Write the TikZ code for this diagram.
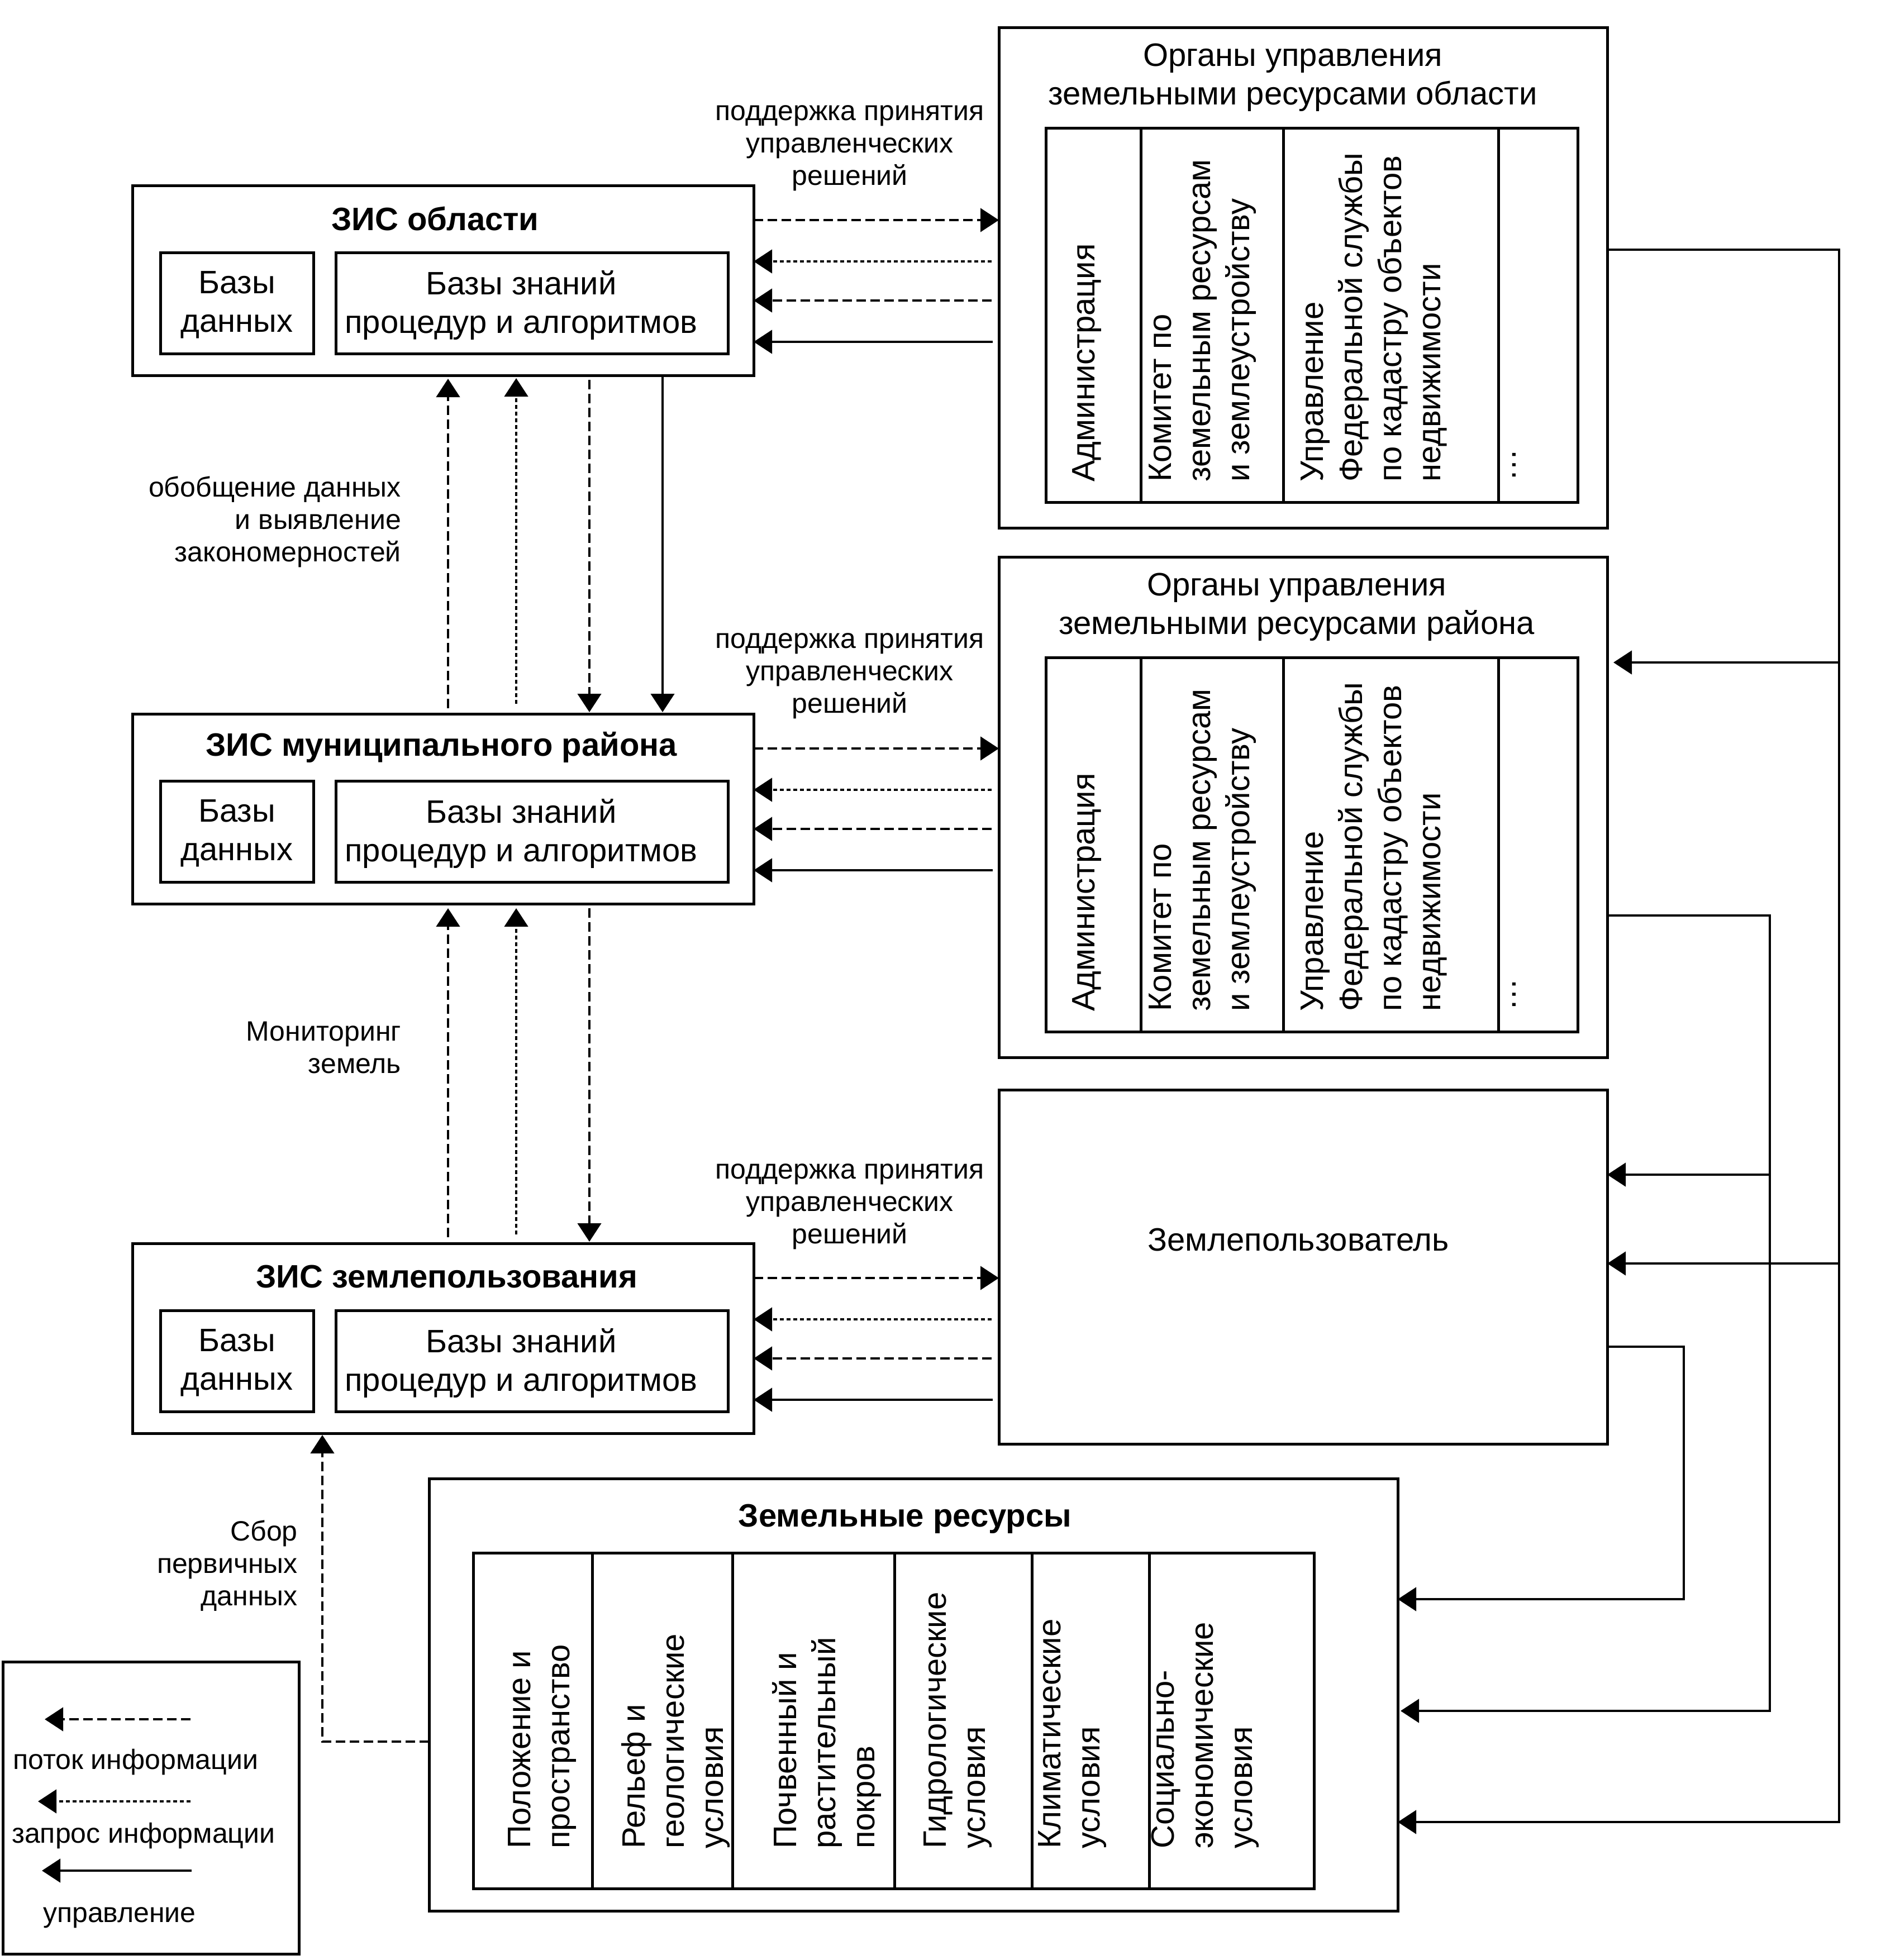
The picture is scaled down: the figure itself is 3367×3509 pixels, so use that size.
\documentclass[tikz,border=0pt]{standalone}
\usepackage{fontspec}
\setmainfont{Liberation Sans}
\usetikzlibrary{arrows.meta,calc}
\begin{document}
\begin{tikzpicture}[x=1pt,y=-1pt,
  >={Triangle[length=33pt,width=42pt]},
  box/.style={draw,line width=5pt,inner sep=0pt,outer sep=0pt,anchor=north west},
  ln/.style={line width=4.5pt},
  flow/.style={ln,dash pattern=on 17pt off 8pt},
  req/.style={ln,dash pattern=on 7pt off 5pt},
  ctl/.style={ln},
  big/.style={font=\fontsize{58}{69}\selectfont,inner sep=0pt,align=center},
  bigb/.style={font=\fontsize{58}{69}\selectfont\bfseries,inner sep=0pt},
  small/.style={font=\fontsize{50}{58}\selectfont,inner sep=0pt},
  vert/.style={font=\fontsize{58}{70}\selectfont,inner sep=0pt,rotate=90,anchor=west,align=left},
]
\useasboundingbox (0,0) rectangle (3367,3509);

% ---------- GIS boxes ----------
\foreach \n/\dy/\ttl/\tx in {zo/0/ЗИС области/779, zm/946/ЗИС муниципального района/790, zz/1894/ЗИС землепользования/800}{
  \node[box,minimum width=1112pt,minimum height=340pt] (\n) at (237,332+\dy) {};
  \node[box,minimum width=274pt,minimum height=181pt] (\n db) at (287,452+\dy) {};
  \node[box,minimum width=702pt,minimum height=181pt] (\n kb) at (601,452+\dy) {};
  \node[bigb] (\n t) at (\tx,392+\dy) {\ttl};
  \node[big] (\n dbt) at (424,546+\dy) {Базы\\данных};
  \node[big] (\n kbt) at (933,546+\dy) {Базы знаний\\процедур и алгоритмов};
}

% ---------- management bodies ----------
\foreach \n/\dy/\ttl/\tx in {oo/0/области/2314, or/948/района/2321}{
  \node[box,minimum width=1089pt,minimum height=896pt] (\n) at (1788,49+\dy) {};
  \node[big] (\n t) at (\tx,139+\dy) {Органы управления\\земельными ресурсами \ttl};
  \foreach \a/\b/\c in {1872/2042/1,2042/2297/2,2297/2682/3,2682/2824/4}{
    \node[box,minimum width={(\b-\a)*1pt},minimum height=670pt] (\n c\c) at (\a,229+\dy) {};
  }
  \node[vert] (\n x1) at (1946,863+\dy) {Администрация};
  \node[vert] (\n x2) at (2153,863+\dy) {Комитет по\\земельным ресурсам\\и землеустройству};
  \node[vert] (\n x3) at (2459,863+\dy) {Управление\\Федеральной службы\\по кадастру объектов\\недвижимости};
  \node[vert] (\n x4) at (2710,862+\dy) {…};
}

% ---------- land user ----------
\node[box,minimum width=1089pt,minimum height=634pt] (lu) at (1788,1951) {};
\node[big] (lut) at (2324,2220) {Землепользователь};

% ---------- land resources ----------
\node[box,minimum width=1734pt,minimum height=774pt] (lr) at (768,2647) {};
\node[bigb] (lrt) at (1620,2719) {Земельные ресурсы};
\foreach \a/\b/\c in {847/1060/1,1060/1311/2,1311/1601/3,1601/1847/4,1847/2057/5,2057/2352/6}{
  \node[box,minimum width={(\b-\a)*1pt},minimum height=601pt] (lrc\c) at (\a,2780) {};
}
\node[vert] (lrx1) at (971,3310) {Положение и\\пространство};
\node[vert] (lrx2) at (1209,3310) {Рельеф и\\геологические\\условия};
\node[vert] (lrx3) at (1480,3310) {Почвенный и\\растительный\\покров};
\node[vert] (lrx4) at (1715,3310) {Гидрологические\\условия};
\node[vert] (lrx5) at (1920,3310) {Климатические\\условия};
\node[vert] (lrx6) at (2157,3310) {Социально-\\экономические\\условия};

% ---------- labels ----------
\foreach \dy/\n in {0/a,945/b,1895/c}{
  \node[small,align=center] (sup\n) at (1521,265+\dy) {поддержка принятия\\управленческих\\решений};
}
\node[small,align=right,anchor=east] (lab1) at (718,934) {обобщение данных\\и выявление\\закономерностей};
\node[small,align=right,anchor=east] (lab2) at (718,1876) {Мониторинг\\земель};
\node[small,align=right,anchor=east] (lab3) at (533,2803) {Сбор\\первичных\\данных};

% ---------- horizontal arrows GIS <-> bodies ----------
\foreach \z/\o in {zo/oo, zm/or, zz/lu}{
  \draw[flow,->] ($(\z.north east)+(0,62)$) -- ($(\o.north west |- \z.north east)+(0,62)$);
  \draw[req,->] ($(\o.north west |- \z.north east)+(-13,136)$) -- ($(\z.north east)+(0,136)$);
  \draw[flow,->] ($(\o.north west |- \z.north east)+(-13,206)$) -- ($(\z.north east)+(0,206)$);
  \draw[ctl,->] ($(\o.north west |- \z.north east)+(-11,280)$) -- ($(\z.north east)+(0,280)$);
}

% ---------- vertical arrows ----------
\draw[flow,->] ($(802,0 |- zm.north)+(0,-10)$) -- ($(802,0 |- zo.south)+(0,6)$);
\draw[req,->] ($(924,0 |- zm.north)+(0,-18)$) -- ($(924,0 |- zo.south)+(0,5)$);
\draw[flow,->] ($(1055,0 |- zo.south)+(0,8)$) -- ($(1055,0 |- zm.north)+(0,-3)$);
\draw[ctl,->] (1186,0 |- zo.south) -- ($(1186,0 |- zm.north)+(0,-3)$);

\draw[flow,->] ($(802,0 |- zz.north)+(0,-11)$) -- ($(802,0 |- zm.south)+(0,8)$);
\draw[req,->] ($(924,0 |- zz.north)+(0,-16)$) -- ($(924,0 |- zm.south)+(0,8)$);
\draw[flow,->] ($(1055,0 |- zm.south)+(0,8)$) -- ($(1055,0 |- zz.north)+(0,-3)$);

% primary data collection
\draw[flow,->] (lr.west |- 0,3118) -| ($(577,0 |- zz.south)+(0,3)$);

% ---------- right-hand control lines ----------
\coordinate (v1) at (3292,0);
\coordinate (v2) at (3168,0);
\coordinate (v3) at (3014,0);
\draw[ctl,->] (oo.east |- 0,447) -| (v1 |- 0,3262) -- (lr.east |- 0,3262);
\draw[ctl,->] (v1 |- 0,1186) -- ($(or.east |- 0,1186)+(11,0)$);
\draw[ctl,->] (v1 |- 0,2262) -- (lu.east |- 0,2262);
\draw[ctl,->] (or.east |- 0,1639) -| (v2 |- 0,3063) -- ($(lr.east |- 0,3063)+(5,0)$);
\draw[ctl,->] (v2 |- 0,2103) -- (lu.east |- 0,2103);
\draw[ctl,->] (lu.east |- 0,2411) -| (v3 |- 0,2863) -- (lr.east |- 0,2863);

% ---------- legend ----------
\node[box,minimum width=530pt,minimum height=523pt] (leg) at (5,2975) {};
\draw[flow,->] ($(leg.north west)+(336,103)$) -- ($(leg.north west)+(75,103)$);
\draw[req,->] ($(leg.north west)+(336,250)$) -- ($(leg.north west)+(63,250)$);
\draw[ctl,->] ($(leg.north west)+(338,374)$) -- ($(leg.north west)+(70,374)$);
\node[small,anchor=west] (leg1) at (23,3155) {поток информации};
\node[small,anchor=west] (leg2) at (21,3287) {запрос информации};
\node[small,anchor=west] (leg3) at (77,3433) {управление};
\end{tikzpicture}
\end{document}
